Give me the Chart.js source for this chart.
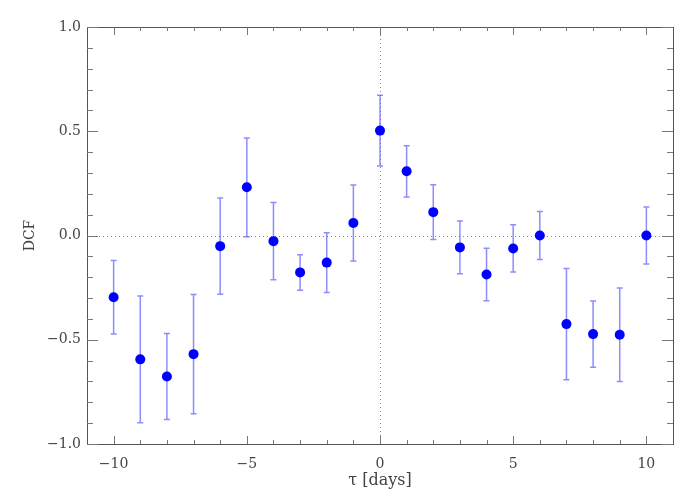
<!DOCTYPE html>
<html>
<head>
<meta charset="utf-8">
<script src="https://cdn.jsdelivr.net/npm/chart.js@4"></script>
<style>
  body { margin: 0; background: #fff; }
</style>
</head>
<body>
<canvas id="dcfChart" width="700" height="500"></canvas>
<script>
// Lags (days) and DCF values
const lags = [-10, -9, -8, -7, -6, -5, -4, -3, -2, -1, 0, 1, 2, 3, 4, 5, 6, 7, 8, 9, 10];
const dcf = [-0.296, -0.594, -0.676, -0.569, -0.051, 0.231, -0.027, -0.177, -0.130, 0.060,
             0.503, 0.308, 0.112, -0.057, -0.187, -0.062, 0.0, -0.425, -0.473, -0.476, 0.0];
const dcfErr = [0.176, 0.304, 0.206, 0.286, 0.231, 0.237, 0.185, 0.085, 0.143, 0.182,
                0.170, 0.123, 0.131, 0.127, 0.126, 0.113, 0.115, 0.267, 0.159, 0.224, 0.137];
const xMajorTicks = [-10, -5, 0, 5, 10];
const yMajorTicks = [-1.0, -0.5, 0.0, 0.5, 1.0];

const FONT = "'DejaVu Serif', 'Liberation Serif', serif";

function minus(s) { return s.replace('-', '\u2212'); }

// error bars, zero lines and the inward-ticked frame
const dcfDecor = {
    id: 'dcfDecor',
    beforeDatasetsDraw(chart) {
        const { ctx, chartArea: a, scales: { x, y } } = chart;
        ctx.save();

        // dotted zero lines
        ctx.strokeStyle = '#888';
        ctx.lineWidth = 1;
        ctx.setLineDash([1, 3]);
        ctx.beginPath();
        ctx.moveTo(a.left, Math.round(y.getPixelForValue(0)) + 0.5);
        ctx.lineTo(a.right, Math.round(y.getPixelForValue(0)) + 0.5);
        ctx.moveTo(Math.round(x.getPixelForValue(0)) + 0.5, a.top);
        ctx.lineTo(Math.round(x.getPixelForValue(0)) + 0.5, a.bottom);
        ctx.stroke();
        ctx.setLineDash([]);

        // error bars
        ctx.strokeStyle = 'rgba(80, 80, 255, 0.65)';
        ctx.lineWidth = 1.5;
        lags.forEach((lag, i) => {
            const px = x.getPixelForValue(lag);
            const top = y.getPixelForValue(dcf[i] + dcfErr[i]);
            const bot = y.getPixelForValue(dcf[i] - dcfErr[i]);
            ctx.beginPath();
            ctx.moveTo(px, top);
            ctx.lineTo(px, bot);
            ctx.moveTo(px - 3, top);
            ctx.lineTo(px + 3, top);
            ctx.moveTo(px - 3, bot);
            ctx.lineTo(px + 3, bot);
            ctx.stroke();
        });

        // frame
        ctx.strokeStyle = '#555';
        ctx.lineWidth = 1;
        ctx.strokeRect(a.left + 0.5, a.top + 0.5, a.right - a.left, a.bottom - a.top);

        // inward ticks
        ctx.strokeStyle = '#777';
        ctx.beginPath();
        for (let v = -10; v <= 10; v++) {
            const px = Math.round(x.getPixelForValue(v)) + 0.5;
            const len = xMajorTicks.includes(v) ? 8 : 4;
            ctx.moveTo(px, a.bottom); ctx.lineTo(px, a.bottom - len);
            ctx.moveTo(px, a.top); ctx.lineTo(px, a.top + len);
        }
        for (let k = -10; k <= 10; k++) {
            const py = Math.round(y.getPixelForValue(k / 10)) + 0.5;
            const len = k % 5 === 0 ? 11 : 6;
            ctx.moveTo(a.left, py); ctx.lineTo(a.left + len, py);
            ctx.moveTo(a.right, py); ctx.lineTo(a.right - len, py);
        }
        ctx.stroke();
        ctx.restore();
    }
};

const ctx = document.getElementById('dcfChart').getContext('2d');

const chart = new Chart(ctx, {
    type: 'scatter',
    data: {
        datasets: [{
            label: 'DCF',
            data: lags.map((lag, i) => ({ x: lag, y: dcf[i] })),
            backgroundColor: '#0000ff',
            borderWidth: 0,
            pointRadius: 5,
            pointHoverRadius: 5
        }]
    },
    options: {
        responsive: false,
        animation: false,
        layout: { padding: { left: 0, top: 27, right: 27, bottom: 0 } },
        plugins: {
            legend: { display: false },
            tooltip: { enabled: false }
        },
        scales: {
            x: {
                type: 'linear',
                min: -11,
                max: 11,
                afterFit(scale) { scale.height = 56; },
                afterBuildTicks(scale) {
                    scale.ticks = xMajorTicks.map(v => ({ value: v }));
                },
                grid: { display: false, drawTicks: false },
                border: { display: false },
                ticks: {
                    padding: 12,
                    maxRotation: 0,
                    autoSkip: false,
                    color: '#444',
                    font: { family: FONT, size: 14 },
                    callback: v => minus(String(v))
                },
                title: {
                    display: true,
                    text: '\u03C4 [days]',
                    color: '#444',
                    font: { family: FONT, size: 16 },
                    padding: { top: 0, bottom: 10 }
                }
            },
            y: {
                type: 'linear',
                min: -1,
                max: 1,
                afterFit(scale) { scale.width = 87; },
                afterBuildTicks(scale) {
                    scale.ticks = yMajorTicks.map(v => ({ value: v }));
                },
                grid: { display: false, drawTicks: false },
                border: { display: false },
                ticks: {
                    padding: 6,
                    autoSkip: false,
                    color: '#444',
                    font: { family: FONT, size: 14 },
                    callback: v => minus(v.toFixed(1))
                },
                title: {
                    display: true,
                    text: 'DCF',
                    color: '#444',
                    font: { family: FONT, size: 14 },
                    padding: { top: 22, bottom: 0 }
                }
            }
        }
    },
    plugins: [dcfDecor]
});
</script>
</body>
</html>
